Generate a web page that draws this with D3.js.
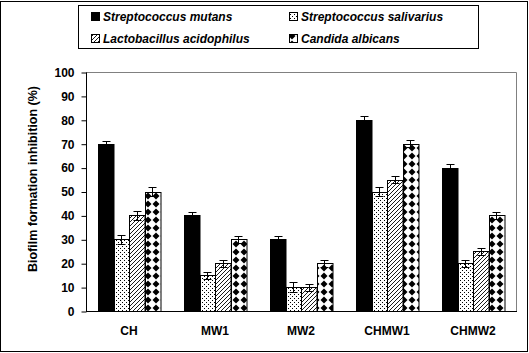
<!DOCTYPE html>
<html lang="en">

<head>
	<meta charset="UTF-8">
	<title>Biofilm formation inhibition</title>
	<script src="https://d3js.org/d3.v7.min.js"></script>
	<style>
		body {
			margin: 0;
			background: #fff;
		}

		text {
			font-family: "Liberation Sans", Arial, sans-serif;
			font-weight: bold;
		}
	</style>
</head>

<body>
	<div id="chart"></div>
</body>

<script>

	var categories = ["CH", "MW1", "MW2", "CHMW1", "CHMW2"];
	var species = ["Streptococcus mutans", "Streptococcus salivarius", "Lactobacillus acidophilus", "Candida albicans"];

	// one array per species, in category order
	var mutans = [70, 40, 30, 80, 60];
	var salivarius = [30, 15, 10, 50, 20];
	var acidophilus = [40, 20, 10, 55, 25];
	var albicans = [50, 30, 20, 70, 40];

	// error bars (+/-)
	var mutansErr = [1, 1.5, 1.5, 1.5, 1.5];
	var salivariusErr = [2, 1.5, 2, 2, 1.5];
	var acidophilusErr = [2, 1.5, 1.5, 1.5, 1.5];
	var albicansErr = [2, 1.5, 1.5, 1.5, 1.5];

	var yTicks = [0, 10, 20, 30, 40, 50, 60, 70, 80, 90, 100];

	var values = [mutans, salivarius, acidophilus, albicans];
	var errors = [mutansErr, salivariusErr, acidophilusErr, albicansErr];
	var fills = ["#000", "url(#dots)", "url(#diag)", "url(#diamond)"];

	var w = 529;
	var h = 353;
	// plot area (note: "top" is a reserved window property)
	var pLeft = 86, pRight = 516, pTop = 72, pBottom = 311;

	var svg = d3.select("#chart").append("svg")
		.attr("width", w)
		.attr("height", h);

	// patterns
	var defs = svg.append("defs");

	var p1 = defs.append("pattern").attr("id", "dots")
		.attr("patternUnits", "userSpaceOnUse").attr("width", 4).attr("height", 4);
	p1.append("rect").attr("width", 4).attr("height", 4).attr("fill", "#fff");
	p1.append("rect").attr("x", 0).attr("y", 0).attr("width", 1).attr("height", 1).attr("fill", "#000");
	p1.append("rect").attr("x", 2).attr("y", 2).attr("width", 1).attr("height", 1).attr("fill", "#000");

	var p2 = defs.append("pattern").attr("id", "diag")
		.attr("patternUnits", "userSpaceOnUse").attr("width", 4).attr("height", 4);
	p2.append("rect").attr("width", 4).attr("height", 4).attr("fill", "#fff");
	p2.append("path").attr("d", "M-1,1 L1,-1 M0,4 L4,0 M3,5 L5,3")
		.attr("stroke", "#000").attr("stroke-width", 0.9);

	var p3 = defs.append("pattern").attr("id", "diamond")
		.attr("patternUnits", "userSpaceOnUse").attr("width", 8).attr("height", 8);
	p3.append("rect").attr("width", 8).attr("height", 8).attr("fill", "#fff");
	p3.append("path").attr("d", "M4,0.5 L7.5,4 L4,7.5 L0.5,4 Z").attr("fill", "#000");

	// outer frame
	svg.append("rect")
		.attr("x", 0.5).attr("y", 1.5)
		.attr("width", 527).attr("height", 350)
		.attr("fill", "none").attr("stroke", "#000");

	var x0 = d3.scaleBand()
		.domain(categories)
		.range([pLeft, pRight]);

	var x1 = d3.scaleBand()
		.domain(d3.range(species.length))
		.range([0, 62]);

	var y = d3.scaleLinear()
		.domain([0, 100])
		.range([pBottom, pTop]);

	// plot border (grey top and right)
	svg.append("path")
		.attr("d", "M" + pLeft + "," + (pTop + 0.5) + "H" + (pRight + 0.5) + "V" + pBottom)
		.attr("fill", "none").attr("stroke", "#808080");

	var g = svg.append("g");

	categories.forEach(function (c, ci) {
		var gx = x0(c) + (x0.bandwidth() - 62) / 2;
		values.forEach(function (s, si) {
			var v = s[ci];
			g.append("rect")
				.attr("x", Math.round(gx + x1(si)) + 0.5)
				.attr("y", Math.round(y(v)) + 0.5)
				.attr("width", x1.bandwidth())
				.attr("height", pBottom - Math.round(y(v)))
				.attr("fill", fills[si])
				.attr("stroke", "#000")
				.attr("stroke-width", 1);
		});
	});

	// error bars
	categories.forEach(function (c, ci) {
		var gx = x0(c) + (x0.bandwidth() - 62) / 2;
		values.forEach(function (s, si) {
			var v = s[ci], e = errors[si][ci];
			var cx = Math.round(gx + x1(si) + x1.bandwidth() / 2) + 0.5;
			var y1 = Math.round(y(v + e)) + 0.5, y2 = Math.round(y(v - e)) + 0.5;
			g.append("path")
				.attr("d", "M" + cx + "," + y1 + "V" + y2 +
					"M" + (cx - 4) + "," + y1 + "H" + (cx + 4) +
					"M" + (cx - 4) + "," + y2 + "H" + (cx + 4))
				.attr("stroke", "#000").attr("fill", "none");
		});
	});

	// y axis
	var yAxis = svg.append("g")
		.attr("transform", "translate(" + (pLeft + 0.5) + ",0.5)")
		.call(d3.axisLeft(y).tickValues(yTicks).tickSize(5).tickPadding(7));
	yAxis.selectAll("path, line").attr("stroke", "#000");
	yAxis.select(".domain").attr("d", "M0," + pTop + "V" + pBottom);
	yAxis.selectAll("text").attr("font-size", 12).attr("font-family", "Liberation Sans, Arial, sans-serif")
		.attr("font-weight", "bold").attr("fill", "#000");

	// x axis
	svg.append("line")
		.attr("x1", pLeft).attr("x2", pRight + 1)
		.attr("y1", pBottom + 0.5).attr("y2", pBottom + 0.5)
		.attr("stroke", "#000");

	svg.selectAll(".xlab")
		.data(categories)
		.enter().append("text")
		.attr("class", "xlab")
		.attr("x", function (d) { return x0(d) + x0.bandwidth() / 2; })
		.attr("y", 335)
		.attr("text-anchor", "middle")
		.attr("font-size", 12)
		.text(function (d) { return d; });

	// y title
	svg.append("text")
		.attr("transform", "translate(37,179) rotate(-90)")
		.attr("text-anchor", "middle")
		.attr("font-size", 12.5)
		.text("Biofilm formation inhibition (%)");

	// legend
	var lg = svg.append("g");
	lg.append("rect")
		.attr("x", 78.5).attr("y", 5.5)
		.attr("width", 400).attr("height", 43)
		.attr("fill", "#fff").attr("stroke", "#000");

	var legPos = [[91, 21], [289, 21], [91, 43], [289, 43]];
	species.forEach(function (s, si) {
		var p = legPos[si];
		lg.append("rect")
			.attr("x", p[0] + 0.5).attr("y", p[1] - 8.5)
			.attr("width", 8).attr("height", 8)
			.attr("fill", fills[si]).attr("stroke", "#000");
		lg.append("text")
			.attr("x", p[0] + 12).attr("y", p[1])
			.attr("font-size", 12)
			.attr("font-style", "italic")
			.text(s);
	});

</script>

</html>
